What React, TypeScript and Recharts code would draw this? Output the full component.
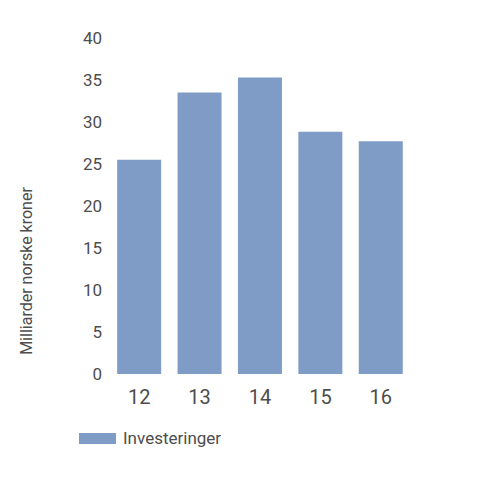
import React from "react";
import { BarChart, Bar, XAxis, YAxis, Legend } from "recharts";

const categories = ["12", "13", "14", "15", "16"];
const investeringer = [25.5, 33.5, 35.3, 28.85, 27.7];
const yTicks = [0, 5, 10, 15, 20, 25, 30, 35, 40];
const seriesName = "Investeringer";
const yLabel = "Milliarder norske kroner";

const data = categories.map((c, i) => ({ cat: c, value: investeringer[i] }));

const TEXT = "#4d4d4d";
const FILL = "#7f9cc6";
const FONT = "Roboto, sans-serif";

const LegendContent = () => (
  <div style={{ display: "flex", alignItems: "center", fontFamily: FONT, fontSize: 17, color: TEXT }}>
    <div style={{ width: 37, height: 11, background: FILL, marginRight: 7 }} />
    <span>{seriesName}</span>
  </div>
);

const YLabel = (props: any) => {
  const vb = props.viewBox || { x: 0, y: 0, height: 0 };
  const cx = vb.x + 26;
  const cy = vb.y + vb.height / 2 + 65;
  return (
    <text
      x={cx}
      y={cy}
      transform={`rotate(-90, ${cx}, ${cy})`}
      textAnchor="middle"
      dominantBaseline="central"
      fill={TEXT}
      fontSize={16}
      fontFamily={FONT}
    >
      {yLabel}
    </text>
  );
};

export default function App() {
  return (
    <div style={{ margin: -8, width: 500, height: 500, background: "#fff" }}>
      <BarChart
        width={500}
        height={500}
        data={data}
        margin={{ top: 38, right: 89, bottom: 86, left: 0 }}
        barCategoryGap="13.5%"
      >
        <XAxis
          dataKey="cat"
          axisLine={false}
          tickLine={false}
          tickSize={0}
          tickMargin={16}
          height={40}
          tick={{ fill: TEXT, fontSize: 20, fontFamily: FONT }}
        />
        <YAxis
          domain={[0, 40]}
          ticks={yTicks}
          interval={0}
          axisLine={false}
          tickLine={false}
          tickSize={0}
          tickMargin={7}
          width={109}
          tick={{ fill: TEXT, fontSize: 17, fontFamily: FONT }}
          label={<YLabel />}
        />
        <Legend
          layout="horizontal"
          verticalAlign="middle"
          align="center"
          content={<LegendContent />}
          wrapperStyle={{ left: 79, top: 428, width: 200, height: 20 }}
        />
        <Bar dataKey="value" name={seriesName} fill={FILL} isAnimationActive={false} />
      </BarChart>
    </div>
  );
}
